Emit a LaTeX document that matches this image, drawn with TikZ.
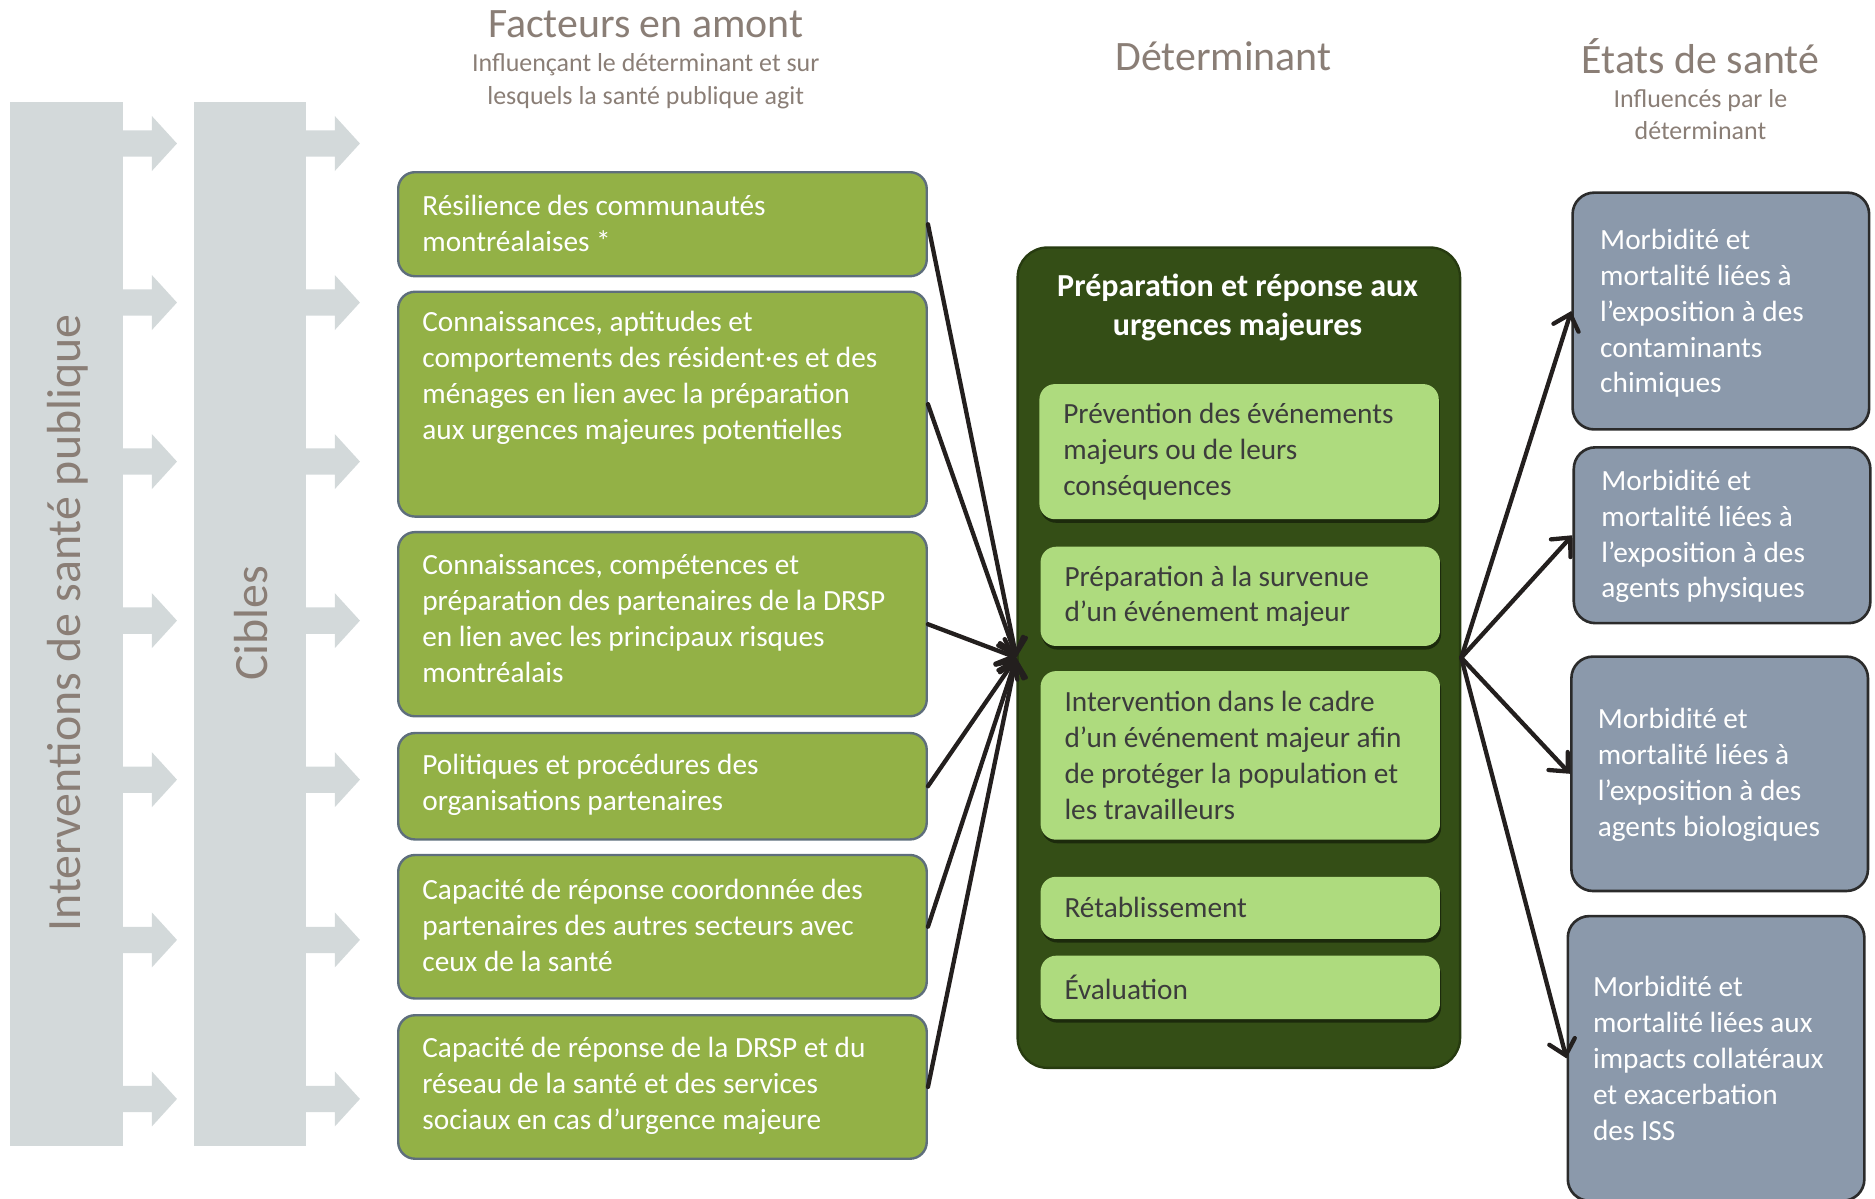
\documentclass[tikz,border=0pt]{standalone}
\usepackage{fontspec}
\setmainfont{Carlito}
\usetikzlibrary{arrows.meta,shadows}
\definecolor{bargray}{HTML}{D3D9DA}
\definecolor{headtxt}{HTML}{8A7E76}
\definecolor{ffill}{HTML}{93B146}
\definecolor{fbord}{HTML}{5E6E7C}
\definecolor{mfill}{HTML}{344E16}
\definecolor{mbord}{HTML}{273B10}
\definecolor{ifill}{HTML}{AEDB7E}
\definecolor{itxt}{HTML}{3C3C3C}
\definecolor{rfill}{HTML}{8B99AB}
\definecolor{rbord}{HTML}{2B2B2B}
\definecolor{arr}{HTML}{231F1E}
\begin{document}
\begin{tikzpicture}[x=1pt,y=-1pt,
  bodyfont/.style={font=\fontsize{24.5}{30}\selectfont},
  factor/.style={draw=fbord, line width=2pt, fill=ffill, rounded corners=14pt,
    minimum width=442pt, minimum height=#1, anchor=north west, inner sep=0pt},
  ftext/.style={bodyfont, text=white, align=left, anchor=west, inner sep=0pt, xshift=21pt},
  inner/.style={fill=ifill, rounded corners=13pt, minimum width=334pt, minimum height=#1,
    anchor=north west, inner sep=0pt,
    drop shadow={shadow xshift=1pt, shadow yshift=-3pt, fill=black, opacity=0.45}},
  itext/.style={bodyfont, text=itxt, align=left, anchor=west, inner sep=0pt, xshift=20pt},
  state/.style={draw=rbord, line width=2.2pt, fill=rfill, rounded corners=18pt,
    minimum width=248pt, minimum height=#1, anchor=north west, inner sep=0pt},
  rtext/.style={bodyfont, text=white, align=left, anchor=west, inner sep=0pt, xshift=24pt},
  head/.style={font=\fontsize{35}{42}\selectfont, text=headtxt, inner sep=0pt},
  subhead/.style={font=\fontsize{21.7}{27}\selectfont, text=headtxt, align=center, inner sep=0pt},
  conn/.style={draw=arr, line width=3.6pt, line cap=round, -{Straight Barb[length=12pt,width=22pt,line cap=round]}},
]
\useasboundingbox (0,0) rectangle (1568,1002);

% gray bars
\fill[bargray] (8,85) rectangle (103,958);
\fill[bargray] (162,85) rectangle (256,958);
\foreach \yy in {120,253,386,519,652,786,919}{
  \fill[bargray] (103,\yy-11) -- (127,\yy-11) -- (127,\yy-23) -- (148,\yy) -- (127,\yy+23) -- (127,\yy+11) -- (103,\yy+11) -- cycle;
  \fill[bargray] (256,\yy-11) -- (280,\yy-11) -- (280,\yy-23) -- (301,\yy) -- (280,\yy+23) -- (280,\yy+11) -- (256,\yy+11) -- cycle;
}
\node[rotate=90, font=\fontsize{40}{48}\selectfont, text=headtxt, inner sep=0pt] (interv) at (57,521) {Interventions de santé publique};
\node[rotate=90, font=\fontsize{40}{48}\selectfont, text=headtxt, inner sep=0pt] (cibles) at (210,521) {Cibles};

% headers
\node[head] (h1) at (540,20) {Facteurs en amont};
\node[subhead] (h1s) at (540,68) {Influençant le déterminant et sur\\lesquels la santé publique agit};
\node[head] (h2) at (1023,47) {Déterminant};
\node[head] (h3) at (1422,47) {États de santé};
\node[subhead] (h3s) at (1422,96) {Influencés par le\\déterminant};

% factor boxes
\node[factor=87pt] (f1) at (332,143) {};
\node[factor=188pt] (f2) at (332,243) {};
\node[factor=154pt] (f3) at (332,444) {};
\node[factor=89pt] (f4) at (332,612) {};
\node[factor=120pt] (f5) at (332,714) {};
\node[factor=120pt] (f6) at (332,848) {};
\node[ftext, yshift=1pt] (f1t) at (f1.west) {Résilience des communautés\\montréalaises *};
\node[ftext, yshift=22pt] (f2t) at (f2.west) {Connaissances, aptitudes et\\comportements des résident·es et des\\ménages en lien avec la préparation\\aux urgences majeures potentielles};
\node[ftext, yshift=5pt] (f3t) at (f3.west) {Connaissances, compétences et\\préparation des partenaires de la DRSP\\en lien avec les principaux risques\\montréalais};
\node[ftext, yshift=1pt] (f4t) at (f4.west) {Politiques et procédures des\\organisations partenaires};
\node[ftext, yshift=1pt] (f5t) at (f5.west) {Capacité de réponse coordonnée des\\partenaires des autres secteurs avec\\ceux de la santé};
\node[ftext, yshift=1pt] (f6t) at (f6.west) {Capacité de réponse de la DRSP et du\\réseau de la santé et des services\\sociaux en cas d’urgence majeure};

% main box
\node[draw=mbord, line width=2pt, fill=mfill, rounded corners=25pt, minimum width=370pt,
  minimum height=686pt, anchor=north west, inner sep=0pt] (main) at (850,206) {};
\node[font=\bfseries\fontsize{26.8}{32}\selectfont, text=white, align=center, inner sep=0pt] (mt) at (1035,257) {Préparation et réponse aux\\urgences majeures};
\node[inner=113pt] (i1) at (869,321) {};
\node[inner=83pt] (i2) at (870,457) {};
\node[inner=141pt] (i3) at (870,561) {};
\node[inner=52pt] (i4) at (870,733) {};
\node[inner=53pt] (i5) at (870,799) {};
\node[itext] (i1t) at (i1.west) {Prévention des événements\\majeurs ou de leurs\\conséquences};
\node[itext] (i2t) at (i2.west) {Préparation à la survenue\\d’un événement majeur};
\node[itext] (i3t) at (i3.west) {Intervention dans le cadre\\d’un événement majeur afin\\de protéger la population et\\les travailleurs};
\node[itext] (i4t) at (i4.west) {Rétablissement};
\node[itext] (i5t) at (i5.west) {Évaluation};

% right boxes
\node[state=198pt] (r1) at (1314,160) {};
\node[state=147pt] (r2) at (1315,373) {};
\node[state=196pt] (r3) at (1313,548) {};
\node[state=238pt] (r4) at (1310,765) {};
\node[rtext, yshift=-2pt] (r1t) at (r1.west) {Morbidité et\\mortalité liées à\\l’exposition à des\\contaminants\\chimiques};
\node[rtext, yshift=-1pt] (r2t) at (r2.west) {Morbidité et\\mortalité liées à\\l’exposition à des\\agents physiques};
\node[rtext, xshift=-1pt, yshift=-1pt] (r3t) at (r3.west) {Morbidité et\\mortalité liées à\\l’exposition à des\\agents biologiques};
\node[rtext, xshift=-2pt] (r4t) at (r4.west) {Morbidité et\\mortalité liées aux\\impacts collatéraux\\et exacerbation\\des ISS};

% connectors
\foreach \f in {f1,f2,f3,f4,f5,f6}{
  \draw[conn] (\f.east) -- (main.west);
}
\foreach \r in {r1,r2,r3,r4}{
  \draw[conn] (main.east) -- (\r.west);
}
\end{tikzpicture}
\end{document}
